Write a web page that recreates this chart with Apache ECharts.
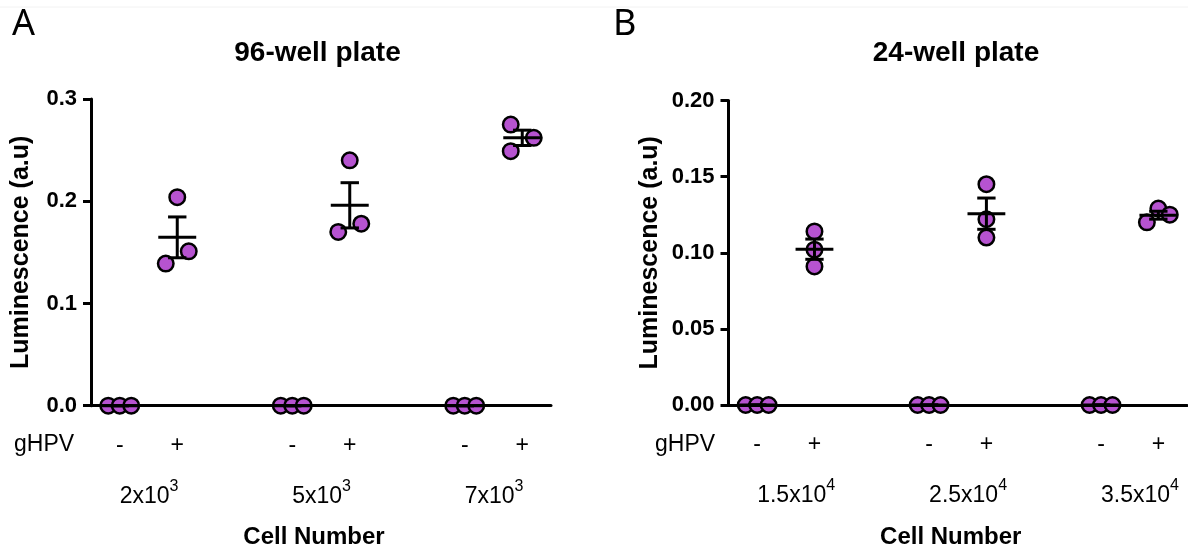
<!DOCTYPE html>
<html><head><meta charset="utf-8">
<script src="https://cdn.jsdelivr.net/npm/echarts@6/dist/echarts.min.js"></script>
<style>html,body{margin:0;padding:0;background:#fff}#c{width:1188px;height:546px}</style>
</head><body><div id="c"></div>
<script>
// ---------------- data ----------------
const panelTitles = ['96-well plate', '24-well plate'];
const panelLetters = ['A', 'B'];
const treatment = ['-', '+'];
const treatmentName = 'gHPV';
const xTitle = 'Cell Number';
const yTitle = 'Luminescence (a.u)';
const leftCellBase = ['2x10', '5x10', '7x10'];
const leftCellExp = ['3', '3', '3'];
const rightCellBase = ['1.5x10', '2.5x10', '3.5x10'];
const rightCellExp = ['4', '4', '4'];

// replicate values per cell-number group
const leftNeg = [[0, 0, 0], [0, 0, 0], [0, 0, 0]];
const leftPos = [[0.139, 0.204, 0.151], [0.170, 0.240, 0.178], [0.275, 0.249, 0.262]];
const rightNeg = [[0, 0, 0], [0, 0, 0], [0, 0, 0]];
const rightPos = [[0.114, 0.102, 0.091], [0.145, 0.122, 0.110], [0.120, 0.129, 0.125]];
// side-by-side spread of overlapping replicate dots (-1 left, 0 centre, 1 right)
const leftNegSpread = [[-1, 0, 1], [-1, 0, 1], [-1, 0, 1]];
const leftPosSpread = [[-1, 0, 1], [-1, 0, 1], [-1, -1, 1]];
const rightNegSpread = [[-1, 0, 1], [-1, 0, 1], [-1, 0, 1]];
const rightPosSpread = [[0, 0, 0], [0, 0, 0], [-1, 0, 1]];
const leftYMax = 0.3, leftYStep = 0.1, leftYDec = 1;
const rightYMax = 0.2, rightYStep = 0.05, rightYDec = 2;

// ---------------- styling ----------------
const FONT = '"Liberation Sans", Arial, Helvetica, sans-serif';
const DOT_STEP = 0.2;
const PURPLE = '#b653d0';

function buildPanel(neg, pos, negSpread, posSpread) {
  const pts = [], stats = [];
  for (let g = 0; g < neg.length; g++) {
    [[neg, negSpread, 0], [pos, posSpread, 1]].forEach(([vals, spr, t]) => {
      const slot = g * 3 + t;
      const v = vals[g];
      v.forEach((y, r) => pts.push([slot + spr[g][r] * DOT_STEP, y]));
      const m = v.reduce((a, b) => a + b, 0) / v.length;
      const sd = Math.sqrt(v.reduce((a, b) => a + (b - m) * (b - m), 0) / (v.length - 1));
      stats.push([slot, m, sd / Math.sqrt(v.length)]);
    });
  }
  return { pts, stats };
}

function xAxes(gridIndex, cellBase, cellExp) {
  const signData = [], cellData = [];
  cellBase.forEach((b, g) => {
    signData.push(treatment[0], treatment[1]);
    cellData.push('{a|' + b + '}{s|' + cellExp[g] + '}', '');
    if (g < cellBase.length - 1) { signData.push(''); cellData.push(''); }
  });
  return [
    { type: 'category', gridIndex, data: signData, boundaryGap: true, position: 'bottom', z: 5,
      axisLine: { show: true, onZero: false, lineStyle: { color: '#000', width: 3 } }, axisTick: { show: false },
      axisLabel: { interval: 0, margin: 28, color: '#000', fontSize: 23, fontFamily: FONT },
      splitLine: { show: false } },
    { type: 'category', gridIndex, data: cellData, boundaryGap: true, position: 'bottom',
      axisLine: { show: false, onZero: false }, axisTick: { show: false }, splitLine: { show: false },
      axisLabel: { interval: 0, margin: 73, align: 'left', color: '#000', fontFamily: FONT,
        rich: {
          a: { fontSize: 23, verticalAlign: 'bottom', fontFamily: FONT, color: '#000' },
          s: { fontSize: 16, verticalAlign: 'bottom', padding: [0, 0, 13, 0], fontFamily: FONT, color: '#000' }
        } },
      name: xTitle, nameLocation: 'middle', nameGap: 120,
      nameTextStyle: { fontSize: 24, fontWeight: 'bold', color: '#000', fontFamily: FONT, padding: [0, 14, 0, 0] } },
    { type: 'value', gridIndex, min: -0.5, max: 7.5, show: false, axisLine: { onZero: false } }
  ];
}

function yAxis(gridIndex, max, step, dec, nameGap) {
  return { type: 'value', gridIndex, min: 0, max, interval: step,
    axisLine: { show: true, onZero: false, lineStyle: { color: '#000', width: 3 } },
    axisTick: { show: true, length: 8, lineStyle: { color: '#000', width: 3 } },
    axisLabel: { margin: 14, fontSize: 22, fontWeight: 'bold', color: '#000', fontFamily: FONT,
      formatter: v => v.toFixed(dec) },
    splitLine: { show: false },
    name: yTitle, nameLocation: 'middle', nameGap,
    nameTextStyle: { fontSize: 25, fontWeight: 'bold', color: '#000', fontFamily: FONT } };
}

function renderBar(params, api) {
  const x = api.value(0), m = api.value(1), s = api.value(2);
  const slot = api.size([1, 0])[0];
  const c = api.coord([x, m]);
  const top = api.coord([x, m + s]);
  const bot = api.coord([x, m - s]);
  const hw = slot * 0.33, cw = slot * 0.16;
  const st = { stroke: '#000', lineWidth: 3 };
  return { type: 'group', children: [
    { type: 'line', shape: { x1: c[0] - hw, y1: c[1], x2: c[0] + hw, y2: c[1] }, style: st },
    { type: 'line', shape: { x1: c[0], y1: top[1], x2: c[0], y2: bot[1] }, style: st },
    { type: 'line', shape: { x1: c[0] - cw, y1: top[1], x2: c[0] + cw, y2: top[1] }, style: st },
    { type: 'line', shape: { x1: c[0] - cw, y1: bot[1], x2: c[0] + cw, y2: bot[1] }, style: st }
  ] };
}

const L = buildPanel(leftNeg, leftPos, leftNegSpread, leftPosSpread);
const R = buildPanel(rightNeg, rightPos, rightNegSpread, rightPosSpread);

function seriesFor(panel, xIdx, yIdx) {
  return [
    { type: 'scatter', xAxisIndex: xIdx, yAxisIndex: yIdx, data: panel.pts, symbol: 'circle', symbolSize: 15.5,
      itemStyle: { color: PURPLE, borderColor: '#000', borderWidth: 2.5, opacity: 1 }, z: 2,
      emphasis: { disabled: true } },
    { type: 'custom', xAxisIndex: xIdx, yAxisIndex: yIdx, data: panel.stats, renderItem: renderBar, z: 3,
      clip: false }
  ];
}

const textStyle = (t, x, y, size, weight, family) => ({
  type: 'text', x, y,
  style: { text: t, fontSize: size, fontWeight: weight, fontFamily: family, fill: '#000', verticalAlign: 'middle', align: 'left' }
});

const option = {
  animation: false,
  backgroundColor: '#fff',
  title: [
    { text: panelTitles[0], left: 317.5, top: 39, textAlign: 'center', padding: 0,
      textStyle: { fontSize: 28, fontWeight: 'bold', color: '#000', fontFamily: FONT } },
    { text: panelTitles[1], left: 956, top: 39, textAlign: 'center', padding: 0,
      textStyle: { fontSize: 28, fontWeight: 'bold', color: '#000', fontFamily: FONT } }
  ],
  grid: [
    { left: 91, top: 99, width: 460, height: 306.7, containLabel: false, outerBoundsMode: 'none' },
    { left: 728.5, top: 100.5, width: 458.5, height: 304.5, containLabel: false, outerBoundsMode: 'none' }
  ],
  xAxis: [...xAxes(0, leftCellBase, leftCellExp), ...xAxes(1, rightCellBase, rightCellExp)],
  yAxis: [yAxis(0, leftYMax, leftYStep, leftYDec, 57), yAxis(1, rightYMax, rightYStep, rightYDec, 66)],
  series: [...seriesFor(L, 2, 0), ...seriesFor(R, 5, 1)],
  graphic: [
    { type: 'line', shape: { x1: 0, y1: 7, x2: 1188, y2: 7 }, style: { stroke: '#f2f2f2', lineWidth: 1 } },
    textStyle(panelLetters[0], 12, 25, 36, 'normal', '"Noto Sans", "Open Sans", sans-serif'),
    textStyle(panelLetters[1], 613, 25, 36, 'normal', '"Noto Sans", "Open Sans", sans-serif'),
    textStyle(treatmentName, 14, 445, 23, 'normal', FONT),
    textStyle(treatmentName, 655, 445, 23, 'normal', FONT)
  ]
};

const chart = echarts.init(document.getElementById('c'), null, { renderer: 'canvas' });
chart.setOption(option);
</script>
</body></html>
